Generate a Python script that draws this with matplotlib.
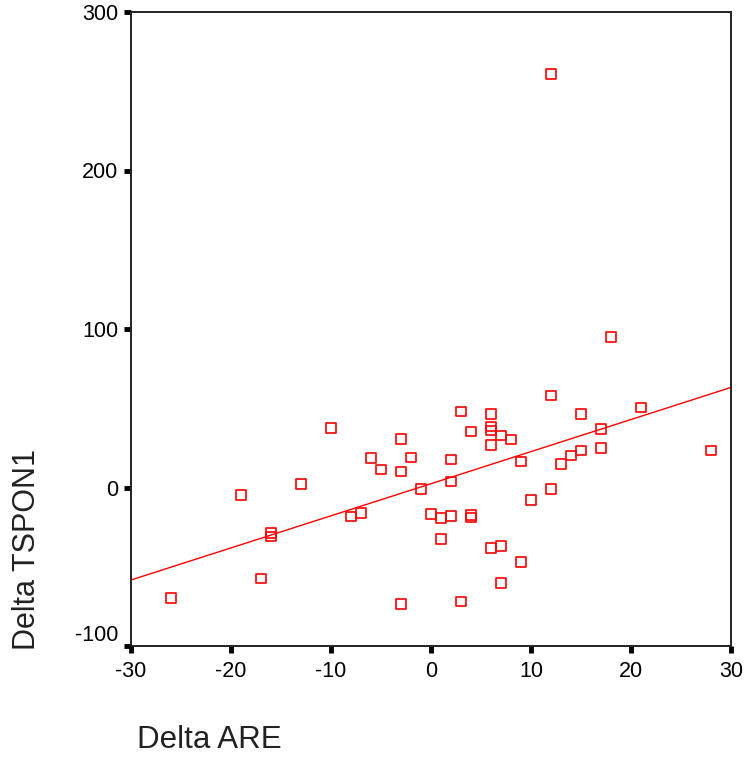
import numpy as np
import matplotlib
matplotlib.use("Agg")
import matplotlib.pyplot as plt
import matplotlib.transforms as mtransforms

plt.rcParams["font.family"] = ["Liberation Sans", "DejaVu Sans"]
plt.rcParams["axes.unicode_minus"] = False

# Delta ARE (x) vs Delta TSPON1 (y)
delta_are = [12, 18, 12, 3, 6, 15, 21, -10, 6, 6, 4, 7, 8, 6, -3, -2, -6, 2,
             -3, -5, 9, 13, 14, 15, 17, 17, 28, -13, -1, 2, 12, 10, -19, 0, 1,
             2, 4, 4, -8, -7, -16, -16, 1, 6, 7, 9, -17, 7, -26, -3, 3]
delta_tspon1 = [261, 95, 58, 48, 46.5, 46.5, 50.5, 37.5, 38.5, 36, 35.3, 32.8,
                30.3, 27, 30.5, 18.9, 18.7, 17.7, 10.1, 11.3, 16.4, 14.9, 20.2,
                23.3, 36.8, 24.8, 23.3, 2.3, -0.8, 3.8, -0.8, -7.8, -4.6, -16.6,
                -19.1, -17.9, -17.5, -19, -18.3, -16.2, -28.8, -31, -32.6,
                -38.3, -36.8, -47.1, -57.4, -60.4, -69.6, -73.4, -72]

x_ticks = [-30, -20, -10, 0, 10, 20, 30]
y_ticks = [-100, 0, 100, 200, 300]

x = np.array(delta_are, dtype=float)
y = np.array(delta_tspon1, dtype=float)
slope, intercept = np.polyfit(x, y, 1)

fig = plt.figure(figsize=(7.44, 7.6), dpi=100)
ax = fig.add_axes([131 / 744, 1 - 646 / 760, 600 / 744, 634 / 760])

ax.scatter(x, y, marker="s", s=48, facecolors="none", edgecolors="red",
           linewidths=1.2, zorder=3)

xl = np.array([-30, 30])
ax.plot(xl, intercept + slope * xl, color="red", linewidth=1.0, zorder=2)

ax.set_xlim(-30, 30)
ax.set_ylim(-100, 300)
ax.set_xticks(x_ticks)
ax.set_yticks(y_ticks)
ax.tick_params(direction="out", length=5, width=3.5, labelsize=15.5, pad=4,
               colors="black")
ax.tick_params(axis="x", pad=6)
for lab in ax.get_yticklabels():
    if lab.get_text() == "-100":
        lab.set_transform(lab.get_transform() +
                          mtransforms.ScaledTranslation(0, 13 / 100, fig.dpi_scale_trans))
for sp in ax.spines.values():
    sp.set_linewidth(1.4)
    sp.set_color("#222222")

fig.text(137 / 744, 1 - 740 / 760, "Delta ARE", fontsize=22.5, ha="left",
         va="center", color="#222222")
fig.text(27 / 744, 1 - 549 / 760, "Delta TSPON1", fontsize=22, ha="center",
         va="center", rotation=90, color="#222222")

fig.savefig("out.png", dpi=100)
